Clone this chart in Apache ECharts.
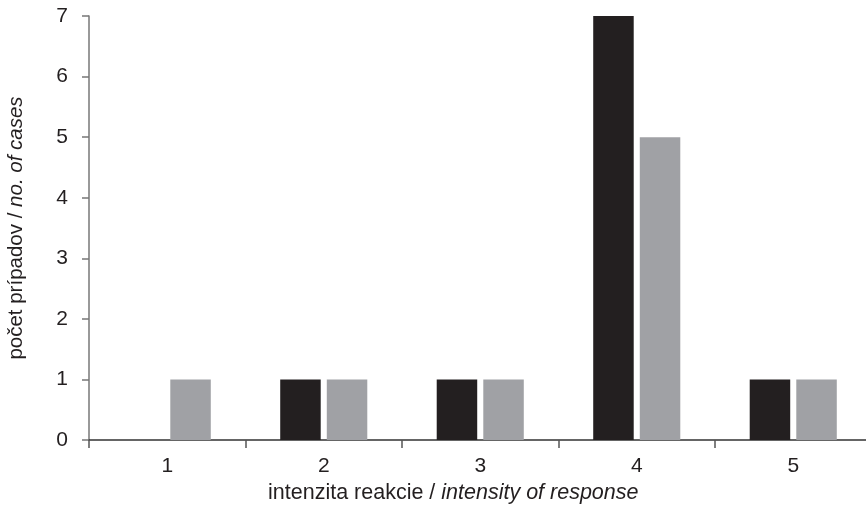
<!DOCTYPE html>
<html><head><meta charset="utf-8">
<script src="https://cdn.jsdelivr.net/npm/echarts@6/dist/echarts.min.js"></script>
<style>html,body{margin:0;padding:0;background:#fff}#c{width:866px;height:509px}</style>
</head><body><div id="c"></div>
<script>
const categories = ['1', '2', '3', '4', '5'];
const seriesBlack = [0, 1, 1, 7, 1];
const seriesGray = [1, 1, 1, 5, 1];
const yTicks = [0, 1, 2, 3, 4, 5, 6, 7];

const chart = echarts.init(document.getElementById('c'), null, {renderer: 'canvas'});
const font = '"Liberation Sans", Arial, sans-serif';
const mkRich = s => ({
  n: {fontSize: s, fontFamily: font, color: '#231f20'},
  i: {fontSize: s, fontFamily: font, fontStyle: 'italic', color: '#231f20'}
});
chart.setOption({
  animation: false,
  grid: {left: 89, right: -5.5, top: 16, bottom: 69, containLabel: false, outerBoundsMode: 'none'},
  xAxis: {
    type: 'category', data: categories,
    axisLine: {lineStyle: {color: '#333', width: 1.5}},
    axisTick: {show: true, alignWithLabel: false, length: 8, lineStyle: {color: '#555', width: 1.5}},
    axisLabel: {color: '#231f20', fontSize: 21, fontFamily: font, margin: 16},
    name: '{n|intenzita reakcie / }{i|intensity of response}',
    nameLocation: 'middle', nameGap: 42,
    nameTextStyle: {rich: mkRich(21.5), padding: [0, 54, 0, 0]}
  },
  yAxis: {
    type: 'value', min: 0, max: 7, interval: 1,
    axisLine: {show: true, lineStyle: {color: '#777', width: 1.5}},
    axisTick: {show: true, length: 7, lineStyle: {color: '#777', width: 1.5}},
    splitLine: {show: false},
    axisLabel: {color: '#231f20', fontSize: 21, fontFamily: font, margin: 21,
      formatter: v => yTicks.includes(v) ? String(v) : ''},
    name: '{n|počet prípadov / }{i|no. of cases}',
    nameLocation: 'middle', nameGap: 62, nameRotate: 90,
    nameTextStyle: {rich: mkRich(20.5)}
  },
  series: [
    {type: 'bar', data: seriesBlack, barWidth: 40.5, barGap: '15%', itemStyle: {color: '#231f20'}},
    {type: 'bar', data: seriesGray, barWidth: 40.5, barGap: '15%', itemStyle: {color: '#a0a1a5'}}
  ]
});
</script></body></html>
